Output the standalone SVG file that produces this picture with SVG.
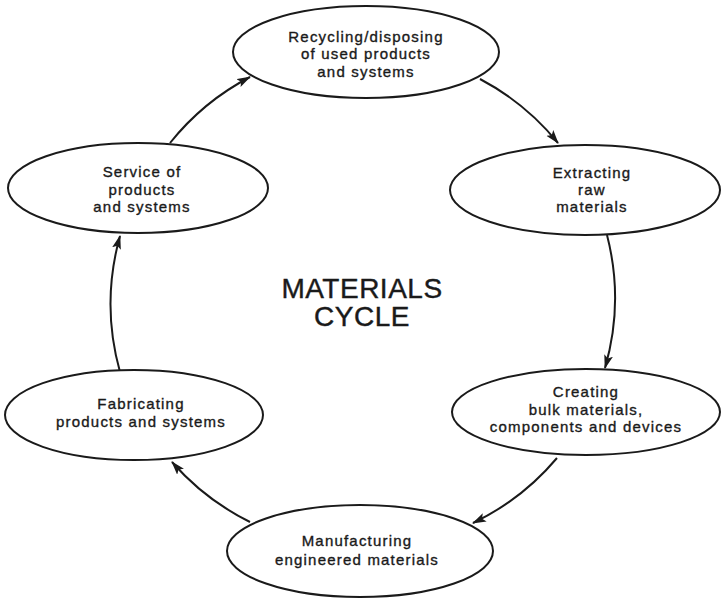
<svg xmlns="http://www.w3.org/2000/svg" width="725" height="599" viewBox="0 0 725 599">
<style>
.node ellipse{fill:#fff;stroke:#1a1a1a;stroke-width:2}
.node text{font-family:"Liberation Sans",Arial,sans-serif;font-size:15px;letter-spacing:1.2px;fill:#1a1a1a;stroke:#1a1a1a;stroke-width:0.35;text-anchor:middle}
.title{font-family:"Liberation Sans",Arial,sans-serif;font-size:28px;letter-spacing:0.5px;fill:#1a1a1a;stroke:#1a1a1a;stroke-width:0.4;text-anchor:middle}
.edge{fill:none;stroke:#1a1a1a;stroke-width:2;marker-end:url(#arr)}
</style>
<defs>
<marker id="arr" markerUnits="userSpaceOnUse" markerWidth="14" markerHeight="10" refX="13" refY="4.5" orient="auto">
<path d="M0,0 L14,4.5 L0,9 L3,4.5 z" fill="#1a1a1a"/>
</marker>
</defs>
<rect width="725" height="599" fill="#fff"/>
<g id="connectors">
<path class="edge" d="M480,79 A252,252 0 0 1 558,143"/>
<path class="edge" d="M607,235 A252,252 0 0 1 605,368"/>
<path class="edge" d="M557,458 A252,252 0 0 1 473,523"/>
<path class="edge" d="M250,522 A252,252 0 0 1 172,462"/>
<path class="edge" d="M120,372 A252,252 0 0 1 120,236"/>
<path class="edge" d="M170,143 A252,252 0 0 1 250,77"/>
</g>
<g id="recycling" class="node">
<ellipse cx="366" cy="52" rx="133" ry="46"/>
<text x="366" y="42">Recycling/disposing</text>
<text x="366" y="59">of used products</text>
<text x="366" y="77">and systems</text>
</g>
<g id="extracting" class="node">
<ellipse cx="585" cy="190" rx="135" ry="45"/>
<text x="592" y="178">Extracting</text>
<text x="592" y="195">raw</text>
<text x="592" y="212">materials</text>
</g>
<g id="creating" class="node">
<ellipse cx="586" cy="412" rx="134" ry="43"/>
<text x="586" y="397">Creating</text>
<text x="586" y="415">bulk materials,</text>
<text x="586" y="432">components and devices</text>
</g>
<g id="manufacturing" class="node">
<ellipse cx="360" cy="551" rx="133" ry="46"/>
<text x="357" y="546">Manufacturing</text>
<text x="357" y="565">engineered materials</text>
</g>
<g id="fabricating" class="node">
<ellipse cx="134" cy="415" rx="129" ry="45"/>
<text x="141" y="409">Fabricating</text>
<text x="141" y="427">products and systems</text>
</g>
<g id="service" class="node">
<ellipse cx="138" cy="188" rx="130" ry="45"/>
<text x="142" y="177">Service of</text>
<text x="142" y="195">products</text>
<text x="142" y="212">and systems</text>
</g>
<g id="center-label">
<text class="title" x="362" y="298">MATERIALS</text>
<text class="title" x="362" y="326">CYCLE</text>
</g>
</svg>
